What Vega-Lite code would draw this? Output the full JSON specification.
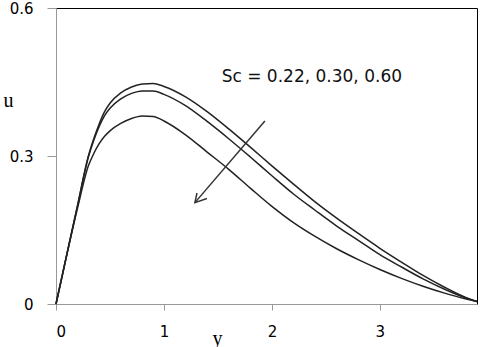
{
  "$schema": "https://vega.github.io/schema/vega-lite/v6.json",
  "width": 421,
  "height": 296,
  "autosize": "none",
  "padding": {"left": 56, "top": 8, "right": 4, "bottom": 43},
  "background": "white",
  "config": {
    "view": {"stroke": "black", "strokeWidth": 1},
    "axis": {"grid": false, "domainColor": "#999999", "tickColor": "#999999", "labelColor": "black", "labelFont": "DejaVu Sans", "labelFontSize": 15}
  },
  "datasets": {
    "curves": [
      {"y": 0, "u": 0, "Sc": "0.22"}, {"y": 0.1, "u": 0.1, "Sc": "0.22"}, {"y": 0.2, "u": 0.2, "Sc": "0.22"}, {"y": 0.3, "u": 0.3, "Sc": "0.22"}, {"y": 0.35, "u": 0.335, "Sc": "0.22"}, {"y": 0.4, "u": 0.365, "Sc": "0.22"}, {"y": 0.45, "u": 0.39, "Sc": "0.22"}, {"y": 0.5, "u": 0.407, "Sc": "0.22"}, {"y": 0.6, "u": 0.428, "Sc": "0.22"}, {"y": 0.7, "u": 0.44, "Sc": "0.22"}, {"y": 0.8, "u": 0.446, "Sc": "0.22"}, {"y": 0.9, "u": 0.447, "Sc": "0.22"}, {"y": 1.0, "u": 0.441, "Sc": "0.22"}, {"y": 1.2, "u": 0.42, "Sc": "0.22"}, {"y": 1.4, "u": 0.39, "Sc": "0.22"}, {"y": 1.6, "u": 0.355, "Sc": "0.22"}, {"y": 1.8, "u": 0.318, "Sc": "0.22"}, {"y": 2.0, "u": 0.28, "Sc": "0.22"}, {"y": 2.2, "u": 0.243, "Sc": "0.22"}, {"y": 2.4, "u": 0.207, "Sc": "0.22"}, {"y": 2.6, "u": 0.174, "Sc": "0.22"}, {"y": 2.8, "u": 0.143, "Sc": "0.22"}, {"y": 3.0, "u": 0.113, "Sc": "0.22"}, {"y": 3.2, "u": 0.085, "Sc": "0.22"}, {"y": 3.4, "u": 0.058, "Sc": "0.22"}, {"y": 3.6, "u": 0.034, "Sc": "0.22"}, {"y": 3.8, "u": 0.013, "Sc": "0.22"}, {"y": 3.9, "u": 0.005, "Sc": "0.22"},
      {"y": 0, "u": 0, "Sc": "0.30"}, {"y": 0.1, "u": 0.1, "Sc": "0.30"}, {"y": 0.2, "u": 0.2, "Sc": "0.30"}, {"y": 0.3, "u": 0.298, "Sc": "0.30"}, {"y": 0.35, "u": 0.332, "Sc": "0.30"}, {"y": 0.4, "u": 0.36, "Sc": "0.30"}, {"y": 0.45, "u": 0.382, "Sc": "0.30"}, {"y": 0.5, "u": 0.397, "Sc": "0.30"}, {"y": 0.6, "u": 0.416, "Sc": "0.30"}, {"y": 0.7, "u": 0.427, "Sc": "0.30"}, {"y": 0.8, "u": 0.432, "Sc": "0.30"}, {"y": 0.9, "u": 0.432, "Sc": "0.30"}, {"y": 1.0, "u": 0.425, "Sc": "0.30"}, {"y": 1.2, "u": 0.402, "Sc": "0.30"}, {"y": 1.4, "u": 0.37, "Sc": "0.30"}, {"y": 1.6, "u": 0.335, "Sc": "0.30"}, {"y": 1.8, "u": 0.298, "Sc": "0.30"}, {"y": 2.0, "u": 0.26, "Sc": "0.30"}, {"y": 2.2, "u": 0.223, "Sc": "0.30"}, {"y": 2.4, "u": 0.19, "Sc": "0.30"}, {"y": 2.6, "u": 0.158, "Sc": "0.30"}, {"y": 2.8, "u": 0.129, "Sc": "0.30"}, {"y": 3.0, "u": 0.1, "Sc": "0.30"}, {"y": 3.2, "u": 0.075, "Sc": "0.30"}, {"y": 3.4, "u": 0.051, "Sc": "0.30"}, {"y": 3.6, "u": 0.03, "Sc": "0.30"}, {"y": 3.8, "u": 0.012, "Sc": "0.30"}, {"y": 3.9, "u": 0.005, "Sc": "0.30"},
      {"y": 0, "u": 0, "Sc": "0.60"}, {"y": 0.1, "u": 0.1, "Sc": "0.60"}, {"y": 0.2, "u": 0.195, "Sc": "0.60"}, {"y": 0.3, "u": 0.28, "Sc": "0.60"}, {"y": 0.35, "u": 0.305, "Sc": "0.60"}, {"y": 0.4, "u": 0.325, "Sc": "0.60"}, {"y": 0.45, "u": 0.34, "Sc": "0.60"}, {"y": 0.5, "u": 0.351, "Sc": "0.60"}, {"y": 0.6, "u": 0.366, "Sc": "0.60"}, {"y": 0.7, "u": 0.376, "Sc": "0.60"}, {"y": 0.8, "u": 0.381, "Sc": "0.60"}, {"y": 0.9, "u": 0.38, "Sc": "0.60"}, {"y": 1.0, "u": 0.371, "Sc": "0.60"}, {"y": 1.2, "u": 0.343, "Sc": "0.60"}, {"y": 1.4, "u": 0.308, "Sc": "0.60"}, {"y": 1.6, "u": 0.273, "Sc": "0.60"}, {"y": 1.8, "u": 0.235, "Sc": "0.60"}, {"y": 2.0, "u": 0.198, "Sc": "0.60"}, {"y": 2.2, "u": 0.165, "Sc": "0.60"}, {"y": 2.4, "u": 0.137, "Sc": "0.60"}, {"y": 2.6, "u": 0.112, "Sc": "0.60"}, {"y": 2.8, "u": 0.09, "Sc": "0.60"}, {"y": 3.0, "u": 0.07, "Sc": "0.60"}, {"y": 3.2, "u": 0.052, "Sc": "0.60"}, {"y": 3.4, "u": 0.036, "Sc": "0.60"}, {"y": 3.6, "u": 0.022, "Sc": "0.60"}, {"y": 3.8, "u": 0.01, "Sc": "0.60"}, {"y": 3.9, "u": 0.005, "Sc": "0.60"}
    ],
    "arrow": [
      {"seg": "shaft", "o": 1, "y": 1.935, "u": 0.371},
      {"seg": "shaft", "o": 2, "y": 1.287, "u": 0.2055},
      {"seg": "head", "o": 1, "y": 1.306, "u": 0.225},
      {"seg": "head", "o": 2, "y": 1.287, "u": 0.2055},
      {"seg": "head", "o": 3, "y": 1.398, "u": 0.214}
    ],
    "note": [{"y": 2.37, "u": 0.46, "label": "Sc = 0.22, 0.30, 0.60"}]
  },
  "layer": [
    {
      "data": {"name": "curves"},
      "mark": {"type": "line", "interpolate": "monotone", "color": "#222222", "strokeWidth": 1.5},
      "encoding": {
        "x": {"field": "y", "type": "quantitative", "scale": {"domain": [0, 3.9], "nice": false},
          "axis": {"values": [0, 1, 2, 3], "format": "d", "tickSize": 6, "labelPadding": 14, "title": "y", "titleFont": "Liberation Serif", "titleFontSize": 20, "titleFontWeight": "normal", "titleX": 161, "titleY": 24, "titleBaseline": "top", "titleAnchor": null}},
        "y": {"field": "u", "type": "quantitative", "scale": {"domain": [0, 0.6], "nice": false},
          "axis": {"values": [0, 0.3, 0.6], "format": "~g", "tickSize": 9, "labelPadding": 14, "title": "u", "titleAngle": 0, "titleFont": "Liberation Serif", "titleFontSize": 20, "titleFontWeight": "normal", "titleX": -48, "titleY": 92, "titleAlign": "center", "titleBaseline": "middle"}},
        "detail": {"field": "Sc"}
      }
    },
    {
      "data": {"name": "arrow"},
      "mark": {"type": "line", "color": "#333333", "strokeWidth": 1.5},
      "encoding": {
        "x": {"field": "y", "type": "quantitative"},
        "y": {"field": "u", "type": "quantitative"},
        "detail": {"field": "seg"},
        "order": {"field": "o"}
      }
    },
    {
      "data": {"name": "note"},
      "mark": {"type": "text", "font": "DejaVu Sans", "fontSize": 17, "color": "#111111", "align": "center", "baseline": "middle"},
      "encoding": {
        "x": {"field": "y", "type": "quantitative"},
        "y": {"field": "u", "type": "quantitative"},
        "text": {"field": "label"}
      }
    }
  ]
}
